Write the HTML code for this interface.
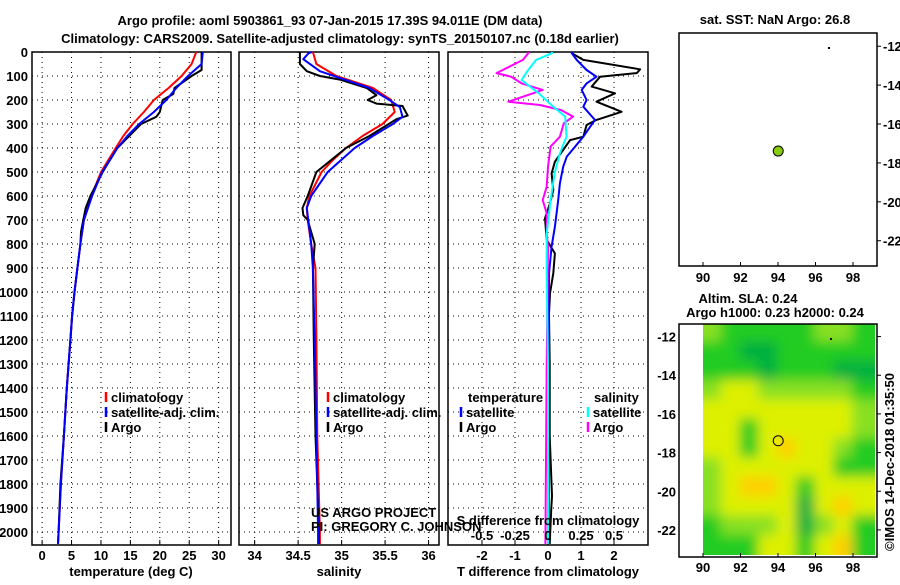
<!DOCTYPE html>
<html><head><meta charset="utf-8"><style>
body{margin:0;background:#fff}
svg text{font-family:"Liberation Sans",sans-serif;font-weight:bold;font-size:13px;fill:#000}
</style></head><body>
<svg id="c" width="900" height="580" xmlns="http://www.w3.org/2000/svg">
<text x="330" y="25" text-anchor="middle" font-size="14">Argo profile: aoml 5903861_93 07-Jan-2015 17.39S 94.011E (DM data)</text>
<text x="340" y="43" text-anchor="middle" font-size="14">Climatology: CARS2009. Satellite-adjusted climatology: synTS_20150107.nc (0.18d earlier)</text>
</svg>
<script>
// ---- data ----
const depthTicks=[0,100,200,300,400,500,600,700,800,900,1000,1100,1200,1300,1400,1500,1600,1700,1800,1900,2000];
const tempTicks=[0,5,10,15,20,25,30];
const salTicks=[34,34.5,35,35.5,36];
const tdTicks=[-2,-1,0,1,2];
const sdTicks=[-0.5,-0.25,0,0.25,0.5];
const lonTicks=[90,92,94,96,98];
const latTicks=[-12,-14,-16,-18,-20,-22];

const tClimD=[0,50,100,150,200,250,300,350,400,500,600,700,800,900,1000,1100,1200,1400,1600,1800,2000,2050];
const tClimV=[26.2,25.4,23.7,21.5,19.0,17.3,15.4,13.8,12.5,10.0,8.4,7.1,6.5,6.0,5.5,5.1,4.8,4.2,3.7,3.2,2.8,2.7];
const tSatD=[0,50,100,150,200,250,300,350,400,500,600,700,800,900,1000,1100,1200,1400,1600,1800,2000,2050];
const tSatV=[27.3,27.1,24.8,22.8,21.1,19.0,16.5,14.5,12.8,10.2,8.5,7.1,6.5,6.0,5.5,5.1,4.8,4.2,3.7,3.2,2.8,2.7];
const tArgD=[0,75,100,150,175,200,250,270,300,350,400,500,600,650,700,750,800,900,1000,1100,1200,1400,1600,1800,2000,2050];
const tArgV=[27.1,27.1,25.4,22.5,22.3,20.5,20.0,19.4,16.8,14.8,12.8,10.3,8.2,7.4,7.0,6.6,6.5,6.0,5.5,5.1,4.8,4.2,3.7,3.1,2.8,2.7];

const sClimD=[0,50,100,150,200,250,300,350,400,450,500,600,650,700,800,900,1200,1600,2000,2050];
const sClimV=[34.67,34.71,34.94,35.36,35.57,35.61,35.47,35.24,35.05,34.90,34.77,34.63,34.60,34.61,34.65,34.70,34.71,34.72,34.75,34.75];
const sSatD=[0,5,30,80,150,200,230,270,300,350,400,500,600,650,800,900,1200,1600,2000,2050];
const sSatV=[34.66,34.62,34.56,34.75,35.32,35.55,35.67,35.70,35.59,35.36,35.15,34.84,34.65,34.60,34.65,34.67,34.69,34.71,34.73,34.73];
const sArgD=[0,50,80,100,115,150,180,200,215,225,265,280,350,400,500,600,650,680,700,800,900,1200,1600,2000,2050];
const sArgV=[34.52,34.52,34.60,34.75,34.98,35.29,35.40,35.30,35.40,35.70,35.76,35.63,35.32,35.05,34.71,34.61,34.55,34.56,34.61,34.69,34.67,34.68,34.70,34.74,34.74];

const dTArgD=[0,5,33,72,88,103,144,172,207,249,283,304,353,367,408,457,506,575,631,693,783,839,922,1006,1089,1300,1600,1850,1900,2050];
const dTArgV=[0.72,0.72,1.07,2.79,2.69,1.58,1.32,2.03,1.47,2.23,1.47,1.17,1.07,0.67,0.46,0.21,0.11,0.16,0.06,-0.09,-0.04,0.21,0.16,0.06,0.03,0.05,0.05,0.12,0.1,0.05];
const dTSatD=[0,5,33,75,103,131,158,200,228,283,353,394,436,478,547,617,728,811,922,1300,2050];
const dTSatV=[0.72,0.72,0.87,1.17,1.47,1.17,1.02,1.17,1.07,1.42,1.07,0.82,0.57,0.46,0.36,0.31,0.21,0.11,0.03,0.03,0.02];
const dSArgD=[0,5,33,88,103,131,158,207,221,242,269,297,353,394,478,561,617,672,756,811,1300,2050];
const dSArgV=[-0.15,-0.15,-0.19,-0.39,-0.28,-0.2,-0.04,-0.30,-0.06,0.10,0.19,0.12,0.09,0.02,0.0,-0.01,-0.04,-0.01,-0.01,0.0,-0.01,-0.02];
const dSSatD=[0,5,33,75,117,172,228,269,353,422,506,617,756,922,1300,2050];
const dSSatV=[0.03,0.03,-0.09,-0.15,-0.2,-0.07,0.04,0.13,0.14,0.09,0.05,0.02,-0.01,-0.01,0.0,0.0];

// SLA map levels (rows lat -11.3.. -23.3, cols lon 90..99)
const slaRows=[
[2,1,1,1,1,1,2,2,1],
[1,1,0,0,1,1,1,1,1],
[1,1,1,0,1,1,1,0,0],
[2,3,3,2,2,2,2,2,1],
[3,3,3,3,3,3,3,3,2],
[3,3,1,3,3,3,3,3,2],
[3,3,1,3,4,3,3,2,1],
[2,3,3,3,3,3,3,1,1],
[2,3,4,4,3,1,3,3,3],
[2,3,3,3,3,0,3,4,3],
[1,2,2,2,3,0,2,3,1],
[1,1,1,3,3,1,3,4,1]];
const argoLon=94.011, argoLat=-17.39;

// ---- drawing ----
const svg=document.getElementById('c');
const NS='http://www.w3.org/2000/svg';
function mk(t,a,p){const e=document.createElementNS(NS,t);for(const k in a)e.setAttribute(k,a[k]);(p||svg).appendChild(e);return e;}
function tx(s,x,y,a,p){const e=mk('text',Object.assign({x:x,y:y},a||{}),p);e.textContent=s;return e;}
const Y0=52,PX=0.24;
const yD=d=>Y0+d*PX;
const panels=[
 {name:'temperature',x0:32,x1:231,v0:-1.72,v1:32.1},
 {name:'salinity',x0:239,x1:439,v0:33.82,v1:36.12},
 {name:'difference',x0:448,x1:648,v0:-3.03,v1:3.03}];
const BOT=545;
function xs(p){return v=>p.x0+(v-p.v0)/(p.v1-p.v0)*(p.x1-p.x0);}
const xT=xs(panels[0]),xS=xs(panels[1]),xDT=xs(panels[2]);
const xDS=v=>xDT(v*4);

function frame(p,ticks,xf){
 const g=mk('g',{});
 
 
 depthTicks.forEach(d=>{const l=mk('line',{x1:p.x0,x2:p.x1,y1:yD(d),y2:yD(d),stroke:'#000','stroke-width':1,'stroke-dasharray':'1,4'},g);
  });
 ticks.forEach(v=>{const x=xf(v);const l=mk('line',{x1:x,x2:x,y1:Y0,y2:BOT,stroke:'#000','stroke-width':1,'stroke-dasharray':'1,4'},g);
  
  mk('line',{x1:x,x2:x,y1:BOT,y2:BOT-5,stroke:'#000'},g);
  const t=tx(String(v),x,560,{'text-anchor':'middle'},g);
  });
 const r=mk('rect',{x:p.x0,y:Y0,width:p.x1-p.x0,height:BOT-Y0,fill:'none',stroke:'#000','stroke-width':1.5},g);
 
 return g;
}
frame(panels[0],tempTicks,xT);
frame(panels[1],salTicks,xS);
frame(panels[2],tdTicks,xDT);
depthTicks.forEach(d=>{const t=tx(String(d),28,yD(d)+5,{'text-anchor':'end'});
 });

function line(D,V,xf,col,name,w){
 const pts=D.map((d,i)=>xf(V[i]).toFixed(1)+','+yD(d).toFixed(1)).join(' ');
 const e=mk('polyline',{points:pts,fill:'none',stroke:col,'stroke-width':w||2,'stroke-linejoin':'round'});
 
 
}
line(tClimD,tClimV,xT,'#f00','temp-climatology-line');
line(tArgD,tArgV,xT,'#000','temp-argo-line');
line(tSatD,tSatV,xT,'#00f','temp-satellite-line');
line(sClimD,sClimV,xS,'#f00','sal-climatology-line');
line(sArgD,sArgV,xS,'#000','sal-argo-line');
line(sSatD,sSatV,xS,'#00f','sal-satellite-line');
line(dTArgD,dTArgV,xDT,'#000','tdiff-argo-line');
line(dTSatD,dTSatV,xDT,'#00f','tdiff-satellite-line');
line(dSArgD,dSArgV,xDS,'#f0f','sdiff-argo-line');
line(dSSatD,dSSatV,xDS,'#0ff','sdiff-satellite-line');

// axis titles
[['temperature (deg C)',131,'temperature-axis-title'],['salinity',339,'salinity-axis-title'],['T difference from climatology',548,'tdiff-axis-title']].forEach(a=>{
 const t=tx(a[0],a[1],576,{'text-anchor':'middle'});});
const st=tx('S difference from climatology',548,525,{'text-anchor':'middle'});

sdTicks.forEach(v=>{const t=tx(String(v),xDS(v),540,{'text-anchor':'middle'});
 });
const u1=tx('US ARGO PROJECT',311,517,{'font-weight':'normal','font-size':'12'});

const u2=tx('PI: GREGORY C. JOHNSON',311,531,{'font-weight':'normal','font-size':'12'});


function legend(x,y,items,name){
 const g=mk('g',{});
 items.forEach((it,i)=>{const yy=y+i*15;
  if(it[1])mk('line',{x1:x,x2:x,y1:yy-10,y2:yy,stroke:it[1],'stroke-width':2.5},g);
  const t=tx(it[0],x+(it[1]?5:0),yy,{},g);});
}
legend(106,402,[['climatology','#f00'],['satellite-adj. clim.','#00f'],['Argo','#000']],'temp-legend');
legend(328,402,[['climatology','#f00'],['satellite-adj. clim.','#00f'],['Argo','#000']],'sal-legend');
legend(468,402,[['temperature',null]],'tdiff-legend-head');
legend(461,417,[['satellite','#00f'],['Argo','#000']],'tdiff-legend');
legend(594,402,[['salinity',null]],'sdiff-legend-head');
legend(588,417,[['satellite','#0ff'],['Argo','#f0f']],'sdiff-legend');

// ---- maps ----
function map(top,bot,lat0,lat1,name){
 const X0=679,X1=877,L0=88.72,L1=99.28;
 const xm=v=>X0+(v-L0)/(L1-L0)*(X1-X0), ym=v=>top+(lat0-v)/(lat0-lat1)*(bot-top);
 const g=mk('g',{});
 return {g,xm,ym,X0,X1,top,bot};
}
function axes(m,ly,latLeft){
 lonTicks.forEach(v=>{mk('line',{x1:m.xm(v),x2:m.xm(v),y1:m.bot,y2:m.bot-4,stroke:'#000'},m.g);
  const t=tx(String(v),m.xm(v),ly,{'text-anchor':'middle'},m.g);});
 latTicks.forEach(v=>{mk('line',{x1:m.X1,x2:m.X1+4,y1:m.ym(v),y2:m.ym(v),stroke:'#000'},m.g);
  const t=latLeft?tx(String(v),676,m.ym(v)+5,{'text-anchor':'end'},m.g):tx(String(v),883,m.ym(v)+5,{},m.g);
  });
 const r=mk('rect',{x:m.X0,y:m.top,width:m.X1-m.X0,height:m.bot-m.top,fill:'none',stroke:'#000','stroke-width':1.5},m.g);
 
}
const m1=map(33,266,-11.32,-23.3,'sst-map');
const t1=tx('sat. SST: NaN Argo: 26.8',775,24,{'text-anchor':'middle'});

axes(m1,282,false);
const c1=mk('circle',{cx:m1.xm(argoLon),cy:m1.ym(argoLat),r:5,fill:'#8c1','stroke':'#000'},m1.g);

mk('rect',{x:828,y:47,width:2,height:2,fill:'#000'},m1.g);

const m2=map(324,557,-11.35,-23.4,'sla-map');
const cols=['#00b040','#22cc22','#88e020','#ddf000','#ffd000'];
const defs=mk('defs',{});
const f=mk('filter',{id:'bl',filterUnits:'userSpaceOnUse',x:650,y:290,width:260,height:300},defs);
mk('feGaussianBlur',{stdDeviation:6,edgeMode:'duplicate'},f);
const cp=mk('clipPath',{id:'cp'},defs);
mk('rect',{x:m2.xm(90),y:m2.top,width:875-m2.xm(90),height:555-m2.top},cp);
const hg=mk('g',{'clip-path':'url(#cp)'},m2.g);
const hb=mk('g',{filter:'url(#bl)'},hg);
slaRows.forEach((row,i)=>row.forEach((v,j)=>{
 let x=m2.xm(90+j)-1,w=m2.xm(91+j)-m2.xm(90+j)+2;
 if(j==0){x-=20;w+=20;}
 if(j==row.length-1)w+=20;
 let y=m2.ym(-11.3-i)-1,h=m2.ym(-12.3-i)-m2.ym(-11.3-i)+2;
 if(i==0){y-=20;h+=20;}
 if(i==slaRows.length-1)h+=20;
 const r=mk('rect',{x:x,y:y,width:w,height:h,fill:cols[v]},hb);
 
 
}));
const t2=tx('Altim. SLA: 0.24',748,303,{'text-anchor':'middle'});

const t3=tx('Argo h1000: 0.23 h2000: 0.24',775,317,{'text-anchor':'middle'});

axes(m2,572,true);
const c2=mk('circle',{cx:m2.xm(argoLon),cy:m2.ym(argoLat),r:5,fill:'none','stroke':'#000'},m2.g);

mk('rect',{x:830,y:338,width:2,height:2,fill:'#000'},m2.g);
const cr=tx('©IMOS 14-Dec-2018 01:35:50',0,0,{'font-weight':'normal','font-size':'12','text-anchor':'middle',transform:'translate(894,462) rotate(-90)'});

</script>
</body></html>
